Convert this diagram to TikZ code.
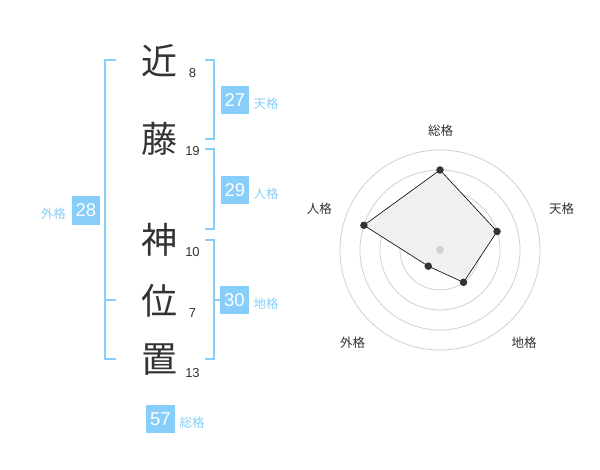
\documentclass[tikz,border=0pt]{standalone}
\usepackage{fontspec}
\setmainfont{Liberation Sans}
\newfontfamily\jp{Noto Sans CJK JP}
\definecolor{skyb}{RGB}{135,206,250}
\definecolor{dark}{RGB}{51,51,51}
\definecolor{gridc}{RGB}{208,208,208}
\definecolor{polyfill}{RGB}{240,240,240}
\begin{document}
\begin{tikzpicture}[x=1pt,y=-1pt,
  kanji/.style={inner sep=0pt,text=dark,font=\jp\fontsize{36}{36}\selectfont},
  strokes/.style={inner sep=0pt,anchor=base,text=dark,font=\fontsize{13}{13}\selectfont},
  scorebox/.style={fill=skyb,text=white,minimum width=28.5pt,minimum height=28.5pt,inner sep=0pt,font=\fontsize{18.5}{18.5}\selectfont},
  kaku/.style={inner sep=0pt,text=skyb,font=\jp\fontsize{12.5}{12.5}\selectfont},
  bracket/.style={draw=skyb,line width=2pt},
  ring/.style={draw=gridc,line width=0.8pt},
  rlabel/.style={inner sep=0pt,text=dark,font=\jp\fontsize{12.5}{12.5}\selectfont},
  dot/.style={circle,fill=dark,inner sep=0pt,minimum size=7.5pt},
]
\useasboundingbox (0,0) rectangle (600,470);
% name characters
\node[kanji] (k1) at (159.5,61) {近};
\node[kanji] (k2) at (159.5,139) {藤};
\node[kanji] (k3) at (159.5,240) {神};
\node[kanji] (k4) at (159.5,301) {位};
\node[kanji] (k5) at (159.5,360) {置};
% stroke counts
\node[strokes] (n1) at (192.5,77.7) {8};
\node[strokes] (n2) at (192.5,155.7) {19};
\node[strokes] (n3) at (192.5,256.7) {10};
\node[strokes] (n4) at (192.5,317.7) {7};
\node[strokes] (n5) at (192.5,377.3) {13};
% brackets
\draw[bracket] (116,60) -- (105,60) -- (105,359) -- (116,359);
\draw[bracket] (105,300) -- (116,300);
\draw[bracket] (205,60) -- (214,60) -- (214,139) -- (205,139);
\draw[bracket] (205,149) -- (214,149) -- (214,229) -- (205,229);
\draw[bracket] (205,240) -- (214,240) -- (214,359) -- (205,359);
\draw[bracket] (214,300) -- (220.5,300);
% score boxes
\node[scorebox] (ten) at (235,100) {27};
\node[kaku] (tenl) at (266,104) {天格};
\node[scorebox] (jin) at (235,190) {29};
\node[kaku] (jinl) at (266,194) {人格};
\node[scorebox] (chi) at (234.5,300) {30};
\node[kaku] (chil) at (266,304) {地格};
\node[scorebox] (gai) at (86,210.5) {28};
\node[kaku] (gail) at (53.3,214) {外格};
\node[scorebox] (sou) at (160.5,419) {57};
\node[kaku] (soul) at (192,423) {総格};
% radar chart
\coordinate (c) at (440,250);
\foreach \r in {20,40,60,80,100} \draw[ring] (c) circle[radius=\r];
\path (c) ++(-90:80) coordinate (p1)
      (c) ++(-18:60) coordinate (p2)
      (c) ++(54:40) coordinate (p3)
      (c) ++(126:20) coordinate (p4)
      (c) ++(-162:80) coordinate (p5);
\filldraw[fill=polyfill,draw=black,line width=0.6pt] (p1) -- (p2) -- (p3) -- (p4) -- (p5) -- cycle;
\node[circle,fill=gridc,inner sep=0pt,minimum size=8pt] (cd) at (c) {};
\foreach \p in {p1,p2,p3,p4,p5} \node[dot] (d\p) at (\p) {};
\node[rlabel] (r1) at (440.7,130.7) {総格};
\node[rlabel] (r2) at (561.7,208.7) {天格};
\node[rlabel] (r3) at (524,342.3) {地格};
\node[rlabel] (r4) at (352.7,342.3) {外格};
\node[rlabel] (r5) at (319.3,208.7) {人格};
\end{tikzpicture}
\end{document}
